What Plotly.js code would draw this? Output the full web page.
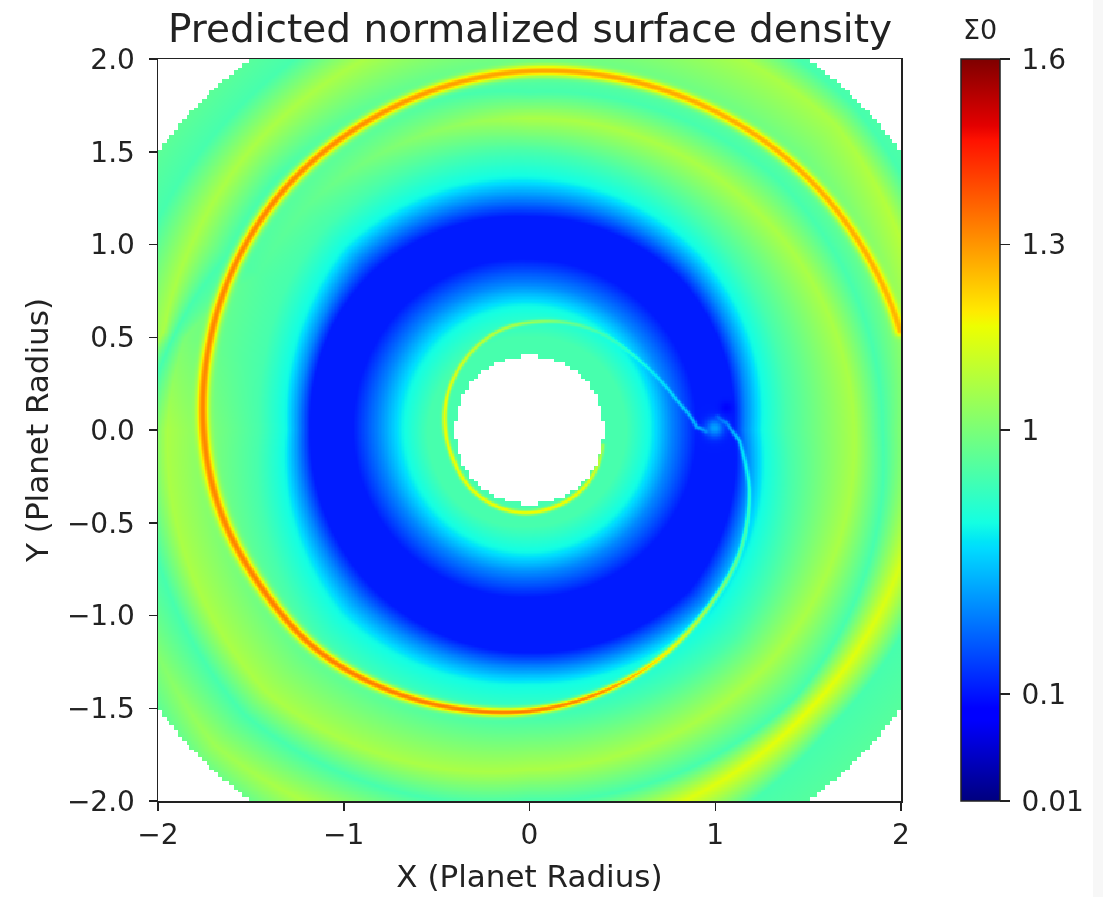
<!DOCTYPE html>
<html><head><meta charset="utf-8">
<script src="https://cdn.plot.ly/plotly-3.0.1.min.js"></script>
<style>html,body{margin:0;padding:0;background:#fff}#chart{width:1103px;height:897px;filter:blur(0.5px)}</style>
</head><body><div id="chart"></div>
<script>
// Colour-bar ticks: the bar is warped, ticks are not evenly spaced
const sigmaTicks = [0.01, 0.1, 1, 1.3, 1.6];
const tickLabels = ['0.01', '0.1', '1', '1.3', '1.6'];
const tickPositions = [0, 0.144, 0.5, 0.75, 1];

// Disc limits read from the mask
const innerRadius = 0.4;
const outerRadius = 2.5;
const maskCell = 0.0215;

// Surface density at each radial landmark (hole, gap, bands, edge)
const bandSigma = [0.84, 0.84, 0.67, 0.39, 0.12, 0.12, 0.39, 0.67, 0.84, 1.07, 0.84, 1.07, 0.84, 0.98];
// Direction (degrees) of each row of landmark radii read along rays
const rayAngles = [0, 45, 90, 135, 150, 165, 180, 225, 270, 315];
const ray0   = [.40,.52,.65,.76,.90,1.10,1.16,1.25,1.38,1.75,1.90,2.12,2.30,2.9];
const ray45  = [.40,.52,.66,.77,.91,1.15,1.23,1.32,1.44,1.70,1.90,2.33,2.47,2.9];
const ray90  = [.40,.50,.67,.78,.92,1.15,1.25,1.36,1.50,1.68,1.82,2.25,2.45,2.9];
const ray135 = [.40,.52,.68,.81,.95,1.20,1.30,1.40,1.55,1.70,1.92,2.13,2.33,2.7];
const ray150 = [.40,.53,.68,.81,.95,1.20,1.27,1.36,1.52,1.68,1.88,2.08,2.30,2.7];
const ray165 = [.40,.54,.68,.81,.95,1.19,1.25,1.33,1.48,1.92,1.98,2.04,2.25,2.9];
const ray180 = [.40,.55,.68,.81,.95,1.18,1.24,1.31,1.45,1.95,2.08,2.20,2.40,2.9];
const ray225 = [.40,.55,.67,.79,.93,1.20,1.30,1.42,1.60,2.00,2.17,2.40,2.60,2.9];
const ray270 = [.40,.52,.66,.77,.90,1.20,1.28,1.37,1.55,1.83,2.00,2.20,2.45,2.9];
const ray315 = [.40,.52,.65,.76,.90,1.22,1.31,1.39,1.57,1.80,2.03,2.13,2.28,2.9];
const rayRows = [ray0, ray45, ray90, ray135, ray150, ray165, ray180, ray225, ray270, ray315];
// Strength of the two outer bands along each ray
const band1ByRay = [1.07, 1.07, 1.07, 0.92, 0.88, 1.0, 1.07, 1.07, 1.07, 1.07];
const band2ByRay = [1.12, 1.07, 1.07, 1.07, 1.07, 1.07, 0.84, 1.05, 1.13, 1.16];

// Outer spiral wave, read as radius against direction: crest density, crest width
const outerArmAngle = [15,30,45,60,75,90,105,120,135,150,165,180,195,210,225,240,255,270,285,300,315,330,345,357,362,364];
const outerArmRadius = [2.065,2.043,2.018,1.987,1.958,1.935,1.905,1.875,1.852,1.82,1.785,1.755,1.72,1.675,1.65,1.6,1.553,1.515,1.467,1.415,1.358,1.31,1.225,1.133,1.062,1.015];
const outerArmSigma = [1.26,1.27,1.27,1.27,1.28,1.28,1.29,1.31,1.32,1.32,1.32,1.32,1.32,1.33,1.33,1.33,1.33,1.33,1.31,1.2,1.05,.88,.72,.58,.4,.3];
const outerArmWidth = [.021,.021,.021,.021,.021,.021,.021,.022,.022,.022,.022,.022,.022,.022,.021,.019,.017,.015,.013,.011,.009,.008,.008,.008,.008,.008];

// Inner spiral wave from the planet round the central hole
const innerArmAngle = [-0.5,1,11.5,25,39.5,54.5,69.5,86.3,104.8,122.6,142,160,178,199,223,244,265,286,309,329,348];
const innerArmRadius = [.95,.9,.808,.731,.678,.645,.615,.585,.562,.531,.499,.476,.455,.44,.445,.448,.447,.437,.428,.416,.403];
const innerArmSigma = [.4,.49,.58,.65,.75,.84,.95,1.04,1.08,1.1,1.14,1.17,1.17,1.17,1.17,1.17,1.17,1.18,1.17,1.12,1.05];
const innerArmWidth = [.009,.008,.007,.007,.007,.007,.008,.008,.008,.008,.008,.008,.009,.009,.009,.009,.009,.009,.009,.008,.008];

// Planet glow and the dip just beside it
const spotX = [0.997, 1.06];
const spotY = [0.01, 0.12];
const spotSigma = [0.45, 0.09];
const spotWidth = [0.035, 0.025];

function warp(s){
  for(let i=1;i<sigmaTicks.length;i++){
    if(s<=sigmaTicks[i]){
      const u=(s-sigmaTicks[i-1])/(sigmaTicks[i]-sigmaTicks[i-1]);
      return tickPositions[i-1]+u*(tickPositions[i]-tickPositions[i-1]);
    }
  }
  return 1;
}
const bandT = bandSigma.map(warp);
const band1T = band1ByRay.map(warp);
const band2T = band2ByRay.map(warp);

const N = 520;
const cell = 4/N;
const xs = [], ys = [];
for(let i=0;i<N;i++){ xs.push(-2+(i+.5)*cell); ys.push(-2+(i+.5)*cell); }

function baseField(r,deg){
  const n=rayAngles.length;
  let k=n-1;
  for(let i=0;i<n;i++){ if(deg>=rayAngles[i]) k=i; }
  const k2=(k+1)%n;
  const a0=rayAngles[k], a1=k2===0?360:rayAngles[k2];
  const u=(deg-a0)/(a1-a0);
  const A=rayRows[k],B=rayRows[k2];
  const val=j=> j===9 ? band1T[k]+u*(band1T[k2]-band1T[k]) : j===11 ? band2T[k]+u*(band2T[k2]-band2T[k]) : bandT[j];
  let prev=A[0]+u*(B[0]-A[0]);
  if(r<=prev) return val(0);
  for(let j=1;j<A.length;j++){
    const cur=A[j]+u*(B[j]-A[j]);
    if(r<=cur){
      const v=(r-prev)/(cur-prev);
      return val(j-1)+v*(val(j)-val(j-1));
    }
    prev=cur;
  }
  return val(A.length-1);
}

const base=[], z=[];
for(let j=0;j<N;j++){
  const row=new Array(N), zr=new Array(N);
  for(let i=0;i<N;i++){
    const r=Math.hypot(xs[i],ys[j]);
    let d=Math.atan2(ys[j],xs[i])*180/Math.PI; if(d<0)d+=360;
    row[i]=baseField(r,d); zr[i]=row[i];
  }
  base.push(row); z.push(zr);
}

function stampSegment(x0,y0,x1,y1,t0,t1,w0,w1){
  const reach=4*Math.max(w0,w1);
  const iA=Math.max(0,Math.floor((Math.min(x0,x1)-reach+2)/cell));
  const iB=Math.min(N-1,Math.ceil((Math.max(x0,x1)+reach+2)/cell));
  const jA=Math.max(0,Math.floor((Math.min(y0,y1)-reach+2)/cell));
  const jB=Math.min(N-1,Math.ceil((Math.max(y0,y1)+reach+2)/cell));
  const dx=x1-x0,dy=y1-y0,L=dx*dx+dy*dy||1e-9;
  for(let j=jA;j<=jB;j++)for(let i=iA;i<=iB;i++){
    let u=((xs[i]-x0)*dx+(ys[j]-y0)*dy)/L; u=Math.max(0,Math.min(1,u));
    const ex=xs[i]-x0-u*dx, ey=ys[j]-y0-u*dy;
    const w=w0+u*(w1-w0), t=t0+u*(t1-t0);
    const g=Math.exp(-(ex*ex+ey*ey)/(2*w*w));
    const v=base[j][i]+(t-base[j][i])*g;
    if(v>z[j][i]) z[j][i]=v;
  }
}
// Smooth rendering of the read centre line between its points
function cr(a,b,c,d,u){return .5*(2*b+(c-a)*u+(2*a-5*b+4*c-d)*u*u+(3*b-a-3*c+d)*u*u*u);}
function stampArm(Ang,R,S,W){
  const n=Ang.length, steps=8, rad=Math.PI/180;
  const at=(k,p,q,u)=>{
    const a=Ang[k]+u*(Ang[k+1]-Ang[k]);
    const r=cr(R[p],R[k],R[k+1],R[q],u);
    return [r*Math.cos(a*rad),r*Math.sin(a*rad)];
  };
  for(let k=0;k<n-1;k++){
    const p=Math.max(0,k-1), q=Math.min(n-1,k+2);
    let P=at(k,p,q,0);
    for(let s=1;s<=steps;s++){
      const u=s/steps, u0=(s-1)/steps;
      const Q=at(k,p,q,u);
      const t0=warp(S[k])+u0*(warp(S[k+1])-warp(S[k])), t1=warp(S[k])+u*(warp(S[k+1])-warp(S[k]));
      const w0=W[k]+u0*(W[k+1]-W[k]), w1=W[k]+u*(W[k+1]-W[k]);
      stampSegment(P[0],P[1],Q[0],Q[1],t0,t1,w0,w1);
      P=Q;
    }
  }
}
// dip first (darkens), then glow and arms
for(let s=1;s>=0;s--){
  const t=warp(spotSigma[s]), w=spotWidth[s];
  for(let j=0;j<N;j++)for(let i=0;i<N;i++){
    const d2=(xs[i]-spotX[s])**2+(ys[j]-spotY[s])**2;
    if(d2<16*w*w){
      const g=Math.exp(-d2/(2*w*w));
      base[j][i]=base[j][i]+(t-base[j][i])*g;
      z[j][i]=base[j][i];
    }
  }
}
stampArm(outerArmAngle,outerArmRadius,outerArmSigma,outerArmWidth);
stampArm(innerArmAngle,innerArmRadius,innerArmSigma,innerArmWidth);

// blocky disc mask, as in the source grid
for(let j=0;j<N;j++)for(let i=0;i<N;i++){
  const mx=(Math.floor(xs[i]/maskCell)+.5)*maskCell, my=(Math.floor(ys[j]/maskCell)+.5)*maskCell;
  const r=Math.hypot(mx,my);
  if(r<innerRadius||r>outerRadius) z[j][i]=null;
}

const jet=[[0,'rgb(0,0,127)'],[.11,'rgb(0,0,255)'],[.125,'rgb(0,0,255)'],[.34,'rgb(0,219,255)'],[.35,'rgb(0,229,247)'],[.375,'rgb(20,255,226)'],[.64,'rgb(237,255,0)'],[.65,'rgb(247,244,0)'],[.66,'rgb(255,234,0)'],[.89,'rgb(255,18,0)'],[.91,'rgb(228,0,0)'],[1,'rgb(127,0,0)']];

const font='"DejaVu Sans", sans-serif';
const ink='#222222';
const trace={type:'heatmap',x:xs,y:ys,z:z,zmin:0,zmax:1,zsmooth:false,colorscale:jet,hoverongaps:false,
  colorbar:{x:(961-158)/743,xanchor:'left',y:1,yanchor:'top',
    thicknessmode:'pixels',thickness:39,lenmode:'pixels',len:742,xpad:0,ypad:0,
    outlinecolor:ink,outlinewidth:1.5,borderwidth:0,
    tickmode:'array',tickvals:tickPositions,ticktext:tickLabels.map(s=>'\u2009'+s),ticks:'outside',ticklen:10,tickwidth:1.5,tickcolor:ink,
    tickfont:{family:font,size:28,color:ink}}};
const axis={range:[-2,2],showgrid:false,zeroline:false,showline:true,mirror:true,linecolor:ink,linewidth:1.5,
  ticks:'outside',ticklen:8,tickwidth:1.5,tickcolor:ink,tickfont:{family:font,size:28,color:ink},automargin:false};
const layout={width:1103,height:897,margin:{l:158,r:202,t:59,b:96},paper_bgcolor:'#fff',plot_bgcolor:'#fff',
  title:{text:'Predicted normalized surface density',font:{family:font,size:39,color:ink},x:530/1103,xanchor:'center',y:1-28/897,yanchor:'middle'},
  xaxis:Object.assign({},axis,{tickmode:'array',tickvals:[-2,-1,0,1,2],title:{text:'X (Planet Radius)',font:{family:font,size:31,color:ink},standoff:15}}),
  yaxis:Object.assign({},axis,{tickmode:'array',tickvals:[-2,-1.5,-1,-.5,0,.5,1,1.5,2],tickformat:'.1f',ticklabelstandoff:8,title:{text:'Y (Planet Radius)',font:{family:font,size:31,color:ink},standoff:9}}),
  annotations:[{xref:'paper',yref:'paper',x:(980-158)/743,y:(801-30)/742,text:'Σ0',showarrow:false,xanchor:'center',yanchor:'middle',font:{family:font,size:27,color:ink}}],
  shapes:[{type:'rect',xref:'paper',yref:'paper',x0:(1093-158)/743,x1:(1103-158)/743,y0:-1,y1:2,fillcolor:'#f7f7f7',line:{width:0},layer:'below'}]};
Plotly.newPlot('chart',[trace],layout,{displayModeBar:false,staticPlot:true});
</script></body></html>
